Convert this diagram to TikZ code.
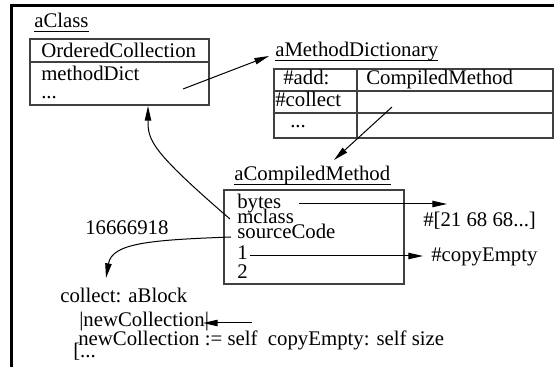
\documentclass[tikz,border=0pt]{standalone}
\usepackage{fontspec}
\setmainfont{Liberation Serif}
\usetikzlibrary{arrows.meta}

\begin{document}
\begin{tikzpicture}[x=0.75pt,y=-0.75pt,>={Triangle[length=11pt,width=4.8pt]},
  txt/.style={anchor=base west,inner sep=0pt,font=\fontsize{15.6}{16}\selectfont},
  box/.style={line width=1pt,draw=black!75},
  link/.style={line width=0.75pt,->}]
  \useasboundingbox (0,0) rectangle (554,367);
  %
  % Frame
  \draw[line width=2pt] (11.3,367) -- (11.3,5.3) -- (554,5.3);
  %
  % The class
  \node[txt] (clsLbl) at (34,28) {aClass};
  \draw[box] (30,39) rectangle (209,105);
  \draw[box] (30,62) -- (209,62);
  \node[txt] (clsName) at (41,58) {OrderedCollection};
  \node[txt] (clsDict) at (41,81) {methodDict};
  \node[txt] (clsMore) at (41,99) {...};
  %
  % The method dictionary
  \node[txt] (dictLbl) at (275,57) {aMethodDictionary};
  \draw[box] (274,69) rectangle (553,138);
  \draw[box] (274,91) -- (553,91) (274,113) -- (553,113) (357,69) -- (357,138);
  \node[txt] (keyAdd) at (283,85) {\#add:};
  \node[txt] (valAdd) at (366,85) {CompiledMethod};
  \node[txt] (keyCollect) at (275,107) {\#collect};
  \node[txt] (keyMore) at (290,128) {...};
  %
  % The compiled method
  \node[txt] (cmLbl) at (234,181) {aCompiledMethod};
  \draw[box] (224,190) rectangle (404,284);
  \node[txt] (cmBytes) at (237,209) {bytes};
  \node[txt] (cmClass) at (237,224) {mclass};
  \node[txt] (cmSource) at (237,239) {sourceCode};
  \node[txt] (cmLit1) at (237,260) {1};
  \node[txt] (cmLit2) at (237,279) {2};
  %
  % What the slots hold
  \node[txt] (bytesVal) at (423,227) {\#[21 68 68...]};
  \node[txt] (litSel) at (431,262) {\#copyEmpty};
  \node[txt] (srcHash) at (85,235) {16666918};
  \node[txt] (srcL1) at (60,303) {collect: aBlock};
  \node[txt] (srcL2) at (79,327) {|newCollection|};
  \node[txt] (srcL3) at (78,345) {newCollection := self\ \ copyEmpty: self size};
  \node[txt] (srcL4) at (73,358) {[...};
  \foreach \n in {clsLbl,dictLbl,cmLbl}
    \draw[line width=0.75pt] ([yshift=-3pt]\n.base west) -- ([yshift=-3pt]\n.base east);
  %
  % Pointers
  \coordinate (dictPtr) at (183,89);
  \coordinate (dictEnd) at (269,56);
  \coordinate (collectPtr) at (392,107);
  \coordinate (cmEnd) at (334,160);
  \coordinate (bytesPtr) at (299,204);
  \coordinate (bytesEnd) at (447,204);
  \coordinate (classPtr) at (230,219);
  \coordinate (clsEnd) at (148,106);
  \coordinate (srcPtr) at (231,237);
  \coordinate (srcEnd) at (106,278);
  \coordinate (litPtr) at (250,256);
  \coordinate (litEnd) at (423,256);
  \coordinate (tempPtr) at (252,323);
  \coordinate (tempEnd) at (203,323);
  \draw[link] (dictPtr) -- (dictEnd);
  \draw[link] (collectPtr) -- (cmEnd);
  \draw[link] (bytesPtr) -- (bytesEnd);
  \draw[link] (classPtr) .. controls (150,150) and (148,140) .. (clsEnd);
  \draw[link] (srcPtr) .. controls (150,240) and (112,243) .. (srcEnd);
  \draw[link] (litPtr) -- (litEnd);
  \draw[link] (tempPtr) -- (tempEnd);
\end{tikzpicture}
\end{document}
